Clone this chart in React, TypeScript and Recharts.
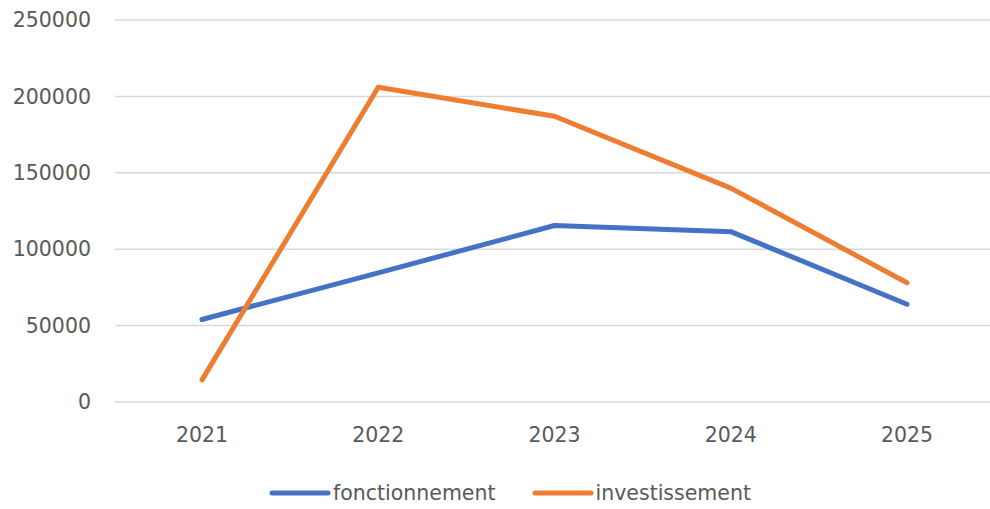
import { LineChart, Line, XAxis, YAxis, CartesianGrid, Legend } from "recharts"

const years = ["2021", "2022", "2023", "2024", "2025"]
const fonctionnement = [54000, 84500, 115500, 111500, 64000]
const investissement = [14500, 206000, 187000, 140000, 78000]
const yTicks = [0, 50000, 100000, 150000, 200000, 250000]

const seriesNames = ["fonctionnement", "investissement"]
const seriesColors = ["#4472C4", "#ED7D31"]

const data = years.map((year, i) => ({
  year,
  fonctionnement: fonctionnement[i],
  investissement: investissement[i],
}))

const font = "'DejaVu Sans', Verdana, sans-serif"
const textColor = "#595959"

function ChartLegend() {
  return (
    <div
      style={{
        display: "flex",
        justifyContent: "flex-start",
        alignItems: "center",
        boxSizing: "border-box",
        height: 45,
        paddingTop: 12,
        paddingLeft: 269,
        gap: 36,
        fontFamily: font,
        fontSize: 20.5,
        color: textColor,
      }}
    >
      {seriesNames.map((name, i) => (
        <div key={name} style={{ display: "flex", alignItems: "center" }}>
          <svg width={62} height={10} style={{ marginRight: 2 }}>
            <line x1={3} y1={5} x2={59} y2={5} stroke={seriesColors[i]} strokeWidth={5} strokeLinecap="round" />
          </svg>
          <span>{name}</span>
        </div>
      ))}
    </div>
  )
}

export default function App() {
  return (
    <div style={{ position: "absolute", left: 0, top: 0, width: 990, height: 509, background: "#fff" }}>
      <LineChart width={990} height={509} data={data} margin={{ top: 20, right: 0, bottom: 0, left: 0 }}>
        <CartesianGrid vertical={false} stroke="#d9d9d9" strokeWidth={1.5} />
        <XAxis
          dataKey="year"
          axisLine={false}
          tickLine={false}
          tickSize={0}
          tickMargin={25}
          height={62}
          padding={{ left: 87, right: 83 }}
          tick={{ fill: textColor, fontSize: 20.5, fontFamily: font }}
        />
        <YAxis
          domain={[0, 250000]}
          ticks={yTicks}
          axisLine={false}
          tickLine={false}
          tickSize={0}
          tickMargin={24}
          width={115}
          tick={{ fill: textColor, fontSize: 20.5, fontFamily: font }}
        />
        <Legend verticalAlign="bottom" height={45} content={() => <ChartLegend />} />
        {seriesNames.map((name, i) => (
          <Line
            key={name}
            type="linear"
            dataKey={name}
            stroke={seriesColors[i]}
            strokeWidth={5}
            strokeLinecap="round"
            strokeLinejoin="round"
            dot={false}
            isAnimationActive={false}
          />
        ))}
      </LineChart>
    </div>
  )
}
